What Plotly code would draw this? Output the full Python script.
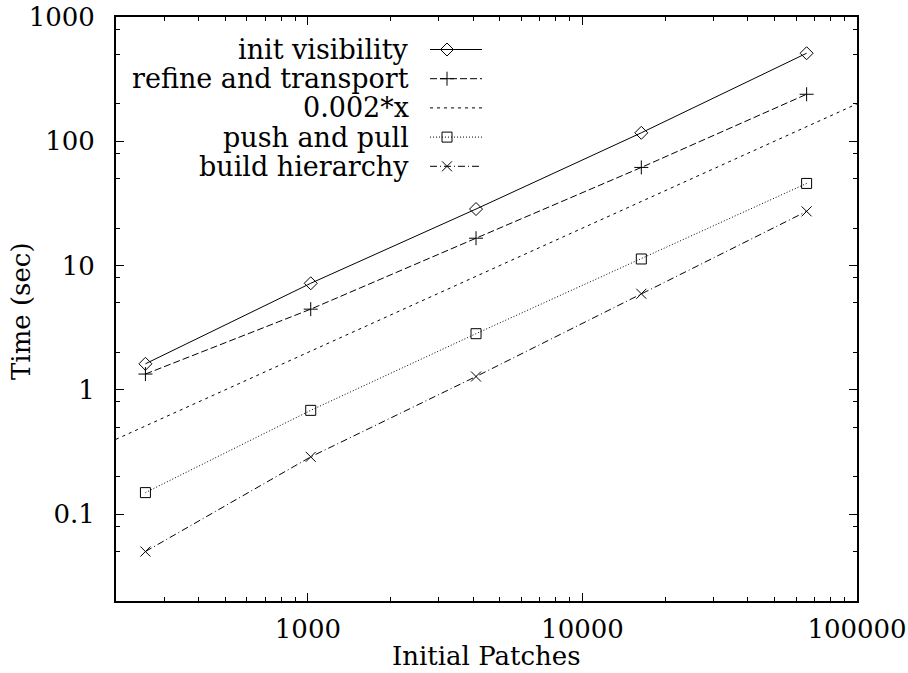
import plotly.graph_objects as go

# ---- data ----
patches = [256, 1024, 4096, 16384, 65536]
init_visibility = [1.62, 7.2, 28.5, 117, 511]
refine_transport = [1.34, 4.46, 16.6, 61.6, 239]
push_pull = [0.149, 0.684, 2.83, 11.3, 45.8]
build_hierarchy = [0.050, 0.289, 1.28, 5.93, 27.3]
ref_x = [200, 100000]
ref_y = [0.4, 200]

series_names = ["init visibility", "refine and transport", "0.002*x",
                "push and pull", "build hierarchy"]
x_tick_vals = [1000, 10000, 100000]
x_tick_text = ["1000", "10000", "100000"]
y_tick_vals = [0.1, 1, 10, 100, 1000]
y_tick_text = ["0.1", "1", "10", "100", "1000"]
x_minor = [m * 10 ** e for e in range(2, 5) for m in range(2, 10)]
y_minor = [m * 10.0 ** e for e in range(-2, 3) for m in (2, 5, 8)]

FONT = "DejaVu Serif"
FS = 26
FS_LEG = 27
W, H = 908, 673
L, R, T, B = 116, 857, 17, 601

styles = [
    dict(dash="solid", symbol="diamond-open", size=10),
    dict(dash="7px,3px", symbol="cross-thin-open", size=10),
    dict(dash="3px,4px", symbol=None, size=0),
    dict(dash="1px,2px", symbol="square-open", size=10),
    dict(dash="7px,3px,1px,3px", symbol="x-thin-open", size=10),
]
xs = [patches, patches, ref_x, patches, patches]
ys = [init_visibility, refine_transport, ref_y, push_pull, build_hierarchy]

fig = go.Figure()
for name, x, y, st in zip(series_names, xs, ys, styles):
    mode = "lines+markers" if st["symbol"] else "lines"
    fig.add_trace(go.Scatter(
        x=x, y=y, name=name, mode=mode,
        line=dict(color="black", width=1, dash=st["dash"]),
        marker=dict(symbol=st["symbol"] or "circle", size=st["size"],
                    color="black", line=dict(color="black", width=1)),
        showlegend=False, cliponaxis=True,
    ))

# ---- manual legend (text on the left, sample on the right, gnuplot style) ----
row0, drow = 49.5, 29.2
for i, (name, st) in enumerate(zip(series_names, styles)):
    yy = row0 + i * drow
    fig.add_trace(go.Scatter(
        x=[430, 482], y=[yy, yy], mode="lines", xaxis="x2", yaxis="y2",
        line=dict(color="black", width=1, dash=st["dash"]),
        showlegend=False, hoverinfo="skip"))
    if st["symbol"]:
        fig.add_trace(go.Scatter(
            x=[447], y=[yy], mode="markers", xaxis="x2", yaxis="y2",
            marker=dict(symbol=st["symbol"], size=st["size"], color="black",
                        line=dict(color="black", width=1)),
            showlegend=False, hoverinfo="skip"))
    fig.add_annotation(x=411, y=yy, xref="x2", yref="y2", text=name,
                       showarrow=False, xanchor="right", yanchor="middle",
                       font=dict(family=FONT, size=FS_LEG, color="black"))

axis_common = dict(
    showline=True, linecolor="black", linewidth=2, mirror="allticks",
    ticks="inside", ticklen=8, tickwidth=1, tickcolor="black",
    showgrid=False, zeroline=False, automargin=False,
    tickfont=dict(family=FONT, size=FS, color="black"),
)
fig.update_layout(
    width=W, height=H,
    margin=dict(l=L, r=W - R, t=T, b=H - B, pad=0, autoexpand=False),
    paper_bgcolor="white", plot_bgcolor="white",
    xaxis=dict(type="log", range=[2.30103, 5], tickmode="array",
               tickvals=x_tick_vals, ticktext=x_tick_text,
               ticklabelstandoff=4,
               minor=dict(ticks="inside", ticklen=4, tickwidth=1,
                          tickcolor="black", tickmode="array", tickvals=x_minor),
               **axis_common),
    yaxis=dict(type="log", range=[-1.69897, 3], tickmode="array",
               tickvals=y_tick_vals, ticktext=y_tick_text,
               ticklabelstandoff=14,
               minor=dict(ticks="inside", ticklen=4, tickwidth=1,
                          tickcolor="black", tickmode="array", tickvals=y_minor),
               **axis_common),
    xaxis2=dict(range=[L, R], overlaying="x", visible=False, domain=[0, 1],
                anchor="y2"),
    yaxis2=dict(range=[B, T], overlaying="y", visible=False, anchor="x2"),
    showlegend=False,
)
fig.add_annotation(x=0.5, y=(B - 672) / (B - T), xref="paper", yref="paper",
                   text="Initial Patches", showarrow=False,
                   xanchor="center", yanchor="bottom", borderpad=0,
                   font=dict(family=FONT, size=FS, color="black"))
fig.add_annotation(x=(21 - L) / (R - L), y=(B - 311) / (B - T),
                   xref="paper", yref="paper", text="Time (sec)",
                   showarrow=False, textangle=-90,
                   xanchor="center", yanchor="middle",
                   font=dict(family=FONT, size=FS, color="black"))

fig.write_html("out.html", config={"displayModeBar": False},
               post_script="document.body.style.margin='0px';"
                           "document.body.style.overflow='hidden';")
